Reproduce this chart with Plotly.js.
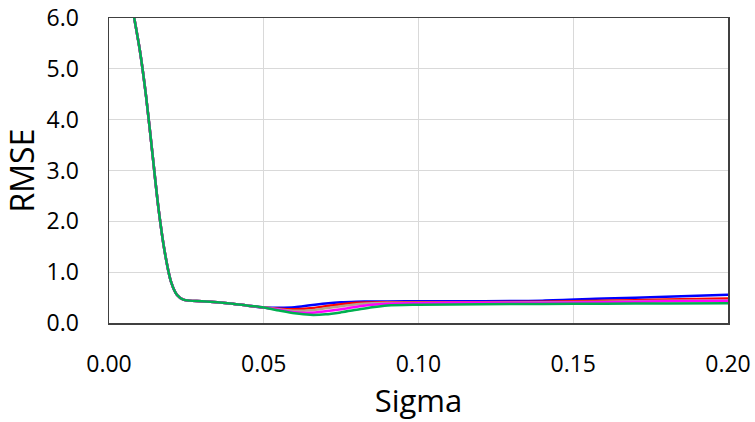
<!DOCTYPE html>
<html>
<head>
<meta charset="utf-8">
<script src="https://cdn.plot.ly/plotly-3.0.1.min.js"></script>
<style>html,body{margin:0;padding:0;background:#fff;}#chart{width:755px;height:422px;}</style>
</head>
<body>
<div id="chart"></div>
<script>
// Sigma values (x)
var sigma = [0.008,0.010,0.012,0.014,0.016,0.018,0.020,0.022,0.024,0.026,0.030,0.035,0.040,0.045,0.050,
             0.055,0.060,0.065,0.070,0.075,0.080,0.085,0.090,0.100,0.120,0.140,0.160,0.180,0.200];
// shared steep part (sigma 0.008 .. 0.050)
var common = [6.05,5.35,4.45,3.35,2.25,1.40,0.82,0.55,0.46,0.44,0.43,0.41,0.38,0.34,0.305];
// per-series tails (sigma 0.055 .. 0.200)
var blueTail    = [0.30,0.31,0.35,0.385,0.41,0.42,0.425,0.425,0.43,0.43,0.44,0.48,0.515,0.555];
var redTail     = [0.28,0.27,0.29,0.33,0.37,0.40,0.405,0.41,0.41,0.41,0.42,0.44,0.46,0.48];
var greyTail    = [0.27,0.24,0.25,0.29,0.33,0.37,0.39,0.40,0.40,0.40,0.41,0.42,0.44,0.45];
var magentaTail = [0.26,0.21,0.20,0.23,0.27,0.32,0.36,0.38,0.39,0.40,0.40,0.41,0.43,0.44];
var greenTail   = [0.245,0.19,0.16,0.17,0.21,0.26,0.31,0.345,0.36,0.37,0.375,0.38,0.385,0.39];
var xTicks = [0, 0.05, 0.10, 0.15, 0.20];
var xTickText = ["0.00","0.05","0.10","0.15","0.20"];
var yTicks = [0,1,2,3,4,5,6];
var yTickText = ["0.0","1.0","2.0","3.0","4.0","5.0","6.0"];

var series = [
  {tail: blueTail, color: "#0000ff"},
  {tail: redTail, color: "#ff0000"},
  {tail: greyTail, color: "#b4a48c"},
  {tail: magentaTail, color: "#ff00ff"},
  {tail: greenTail, color: "#00b050"}
];
var traces = series.map(function(s){
  return {
    x: sigma, y: common.concat(s.tail), type: "scatter", mode: "lines",
    line: {color: s.color, width: 2.5, shape: "spline", smoothing: 0.8},
    hoverinfo: "skip"
  };
});

var font = "Open Sans, Noto Sans, sans-serif";
var layout = {
  width: 755, height: 422,
  margin: {l: 109, r: 27, t: 18, b: 99},
  paper_bgcolor: "#fff", plot_bgcolor: "#fff",
  showlegend: false,
  font: {family: font, color: "#000"},
  xaxis: {
    range: [0, 0.2], tickvals: xTicks, ticktext: xTickText,
    showgrid: true, gridcolor: "#d9d9d9", gridwidth: 1,
    zeroline: false, showline: true, linecolor: "#404040", linewidth: 1.5, mirror: true,
    ticks: "", ticklabelstandoff: 20,
    tickfont: {family: font, size: 23, color: "#000"},
    title: {text: "Sigma", font: {family: font, size: 31, color: "#000"}, standoff: 10}
  },
  yaxis: {
    range: [0, 6], tickvals: yTicks, ticktext: yTickText,
    showgrid: true, gridcolor: "#d9d9d9", gridwidth: 1,
    zeroline: false, showline: true, linecolor: "#404040", linewidth: 1.5, mirror: true,
    ticks: "", ticklabelstandoff: 24,
    tickfont: {family: font, size: 23, color: "#000"},
    title: {text: "RMSE", font: {family: font, size: 32, color: "#000"}, standoff: 8}
  }
};
Plotly.newPlot("chart", traces, layout, {displayModeBar: false, staticPlot: true});
</script>
</body>
</html>
